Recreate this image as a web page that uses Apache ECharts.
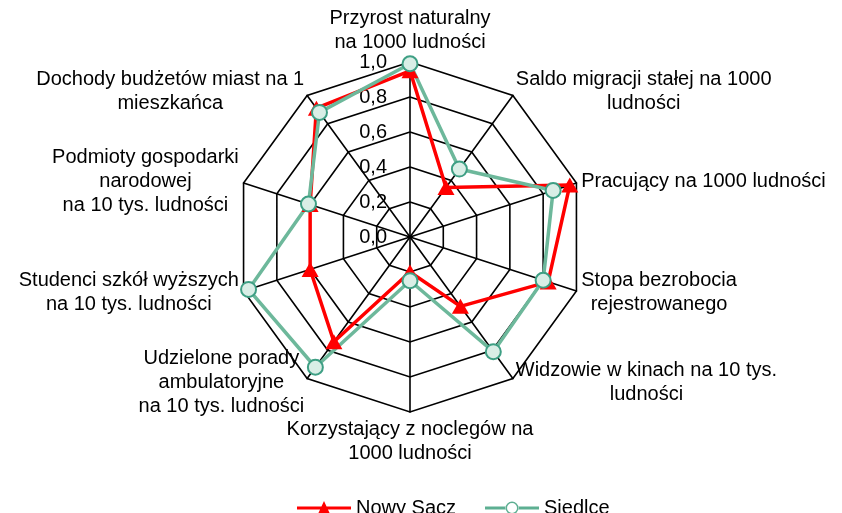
<!DOCTYPE html>
<html><head><meta charset="utf-8">
<script src="https://cdn.jsdelivr.net/npm/echarts@6/dist/echarts.min.js"></script>
<style>html,body{margin:0;padding:0;background:#fff}#c{width:842px;height:513px}</style>
</head><body><div id="c"></div>
<script>
// Categories in clockwise order starting from the top
const categories = [
  'Przyrost naturalny\nna 1000 ludności',
  'Saldo migracji stałej na 1000\nludności',
  'Pracujący na 1000 ludności',
  'Stopa bezrobocia\nrejestrowanego',
  'Widzowie w kinach na 10 tys.\nludności',
  'Korzystający z noclegów na\n1000 ludności',
  'Udzielone porady\nambulatoryjne\nna 10 tys. ludności',
  'Studenci szkół wyższych\nna 10 tys. ludności',
  'Podmioty gospodarki\nnarodowej\nna 10 tys. ludności',
  'Dochody budżetów miast na 1\nmieszkańca'
];
const nowySacz = [0.95, 0.35, 0.96, 0.83, 0.49, 0.20, 0.74, 0.60, 0.60, 0.91];
const siedlce  = [0.99, 0.48, 0.86, 0.80, 0.81, 0.25, 0.92, 0.97, 0.61, 0.88];
const tickLabels = ['0,0', '0,2', '0,4', '0,6', '0,8', '1,0'];
const seriesNames = ['Nowy Sącz', 'Siedlce'];

const FONT = "'Liberation Sans', Arial, sans-serif";
// ECharts lays indicators counter-clockwise; reorder to get clockwise layout
const order = [0, 9, 8, 7, 6, 5, 4, 3, 2, 1];
const reorder = arr => order.map(i => arr[i]);

// legend icons: line with marker (corner move-tos fix the bounding box to 54x14)
const redIcon = 'path://M0,0M54,14M0,5.5L54,5.5L54,8.5L0,8.5Z M27,0L33.5,14L20.5,14Z';
const greenIcon = 'path://M0,0M54,14M0,5.5L21,5.5L21,8.5L0,8.5Z M33,5.5L54,5.5L54,8.5L33,8.5Z ' +
  'M33.5,7A6.5,6.5 0 1,0 20.5,7A6.5,6.5 0 1,0 33.5,7Z M32,7A5,5 0 1,1 22,7A5,5 0 1,1 32,7Z';

const chart = echarts.init(document.getElementById('c'), null, {renderer: 'canvas'});
chart.setOption({
  animation: false,
  backgroundColor: '#fff',
  textStyle: {fontFamily: FONT},
  legend: {
    left: 292, top: 493,
    itemWidth: 54, itemHeight: 14, itemGap: 29,
    textStyle: {fontSize: 20, color: '#000', fontFamily: FONT},
    data: [
      {name: seriesNames[0], icon: redIcon, itemStyle: {color: '#FF0000', borderWidth: 0}},
      {name: seriesNames[1], icon: greenIcon, itemStyle: {color: '#5DAF92', borderWidth: 0}}
    ]
  },
  radar: {
    center: [410, 237],
    radius: 175,
    startAngle: 90,
    shape: 'polygon',
    splitNumber: 5,
    nameGap: 5,
    axisName: {
      color: '#000', fontSize: 20, fontFamily: FONT,
      formatter: name => name.split('\n').map(l => '{c|' + l + '}').join('\n'),
      rich: {c: {align: 'center', fontSize: 20, lineHeight: 24, color: '#000', fontFamily: FONT}}
    },
    splitLine: {lineStyle: {color: '#000', width: 1.6}},
    splitArea: {show: false},
    axisLine: {lineStyle: {color: '#000', width: 1.6}},
    axisTick: {show: false},
    axisLabel: {show: false},
    indicator: order.map((i, k) => {
      const ind = {name: categories[i], min: 0, max: 1};
      if (k === 0) {
        ind.axisLabel = {
          show: true, margin: 23, fontSize: 20, color: '#000', fontFamily: FONT,
          padding: [6, 0, 0, 0],
          formatter: v => tickLabels[Math.round(v / 0.2)]
        };
      }
      return ind;
    })
  },
  series: [
    {
      type: 'radar', name: seriesNames[0],
      symbol: 'triangle', symbolSize: [17, 15],
      lineStyle: {color: '#FF0000', width: 3.5},
      itemStyle: {color: '#FF0000'},
      data: [{name: seriesNames[0], value: reorder(nowySacz)}]
    },
    {
      type: 'radar', name: seriesNames[1],
      symbol: 'circle', symbolSize: 15,
      lineStyle: {color: '#6DB89B', width: 3.5},
      itemStyle: {color: '#D9EEE6', borderColor: '#3E9F84', borderWidth: 2},
      data: [{name: seriesNames[1], value: reorder(siedlce)}]
    }
  ]
});
</script>
</body></html>
